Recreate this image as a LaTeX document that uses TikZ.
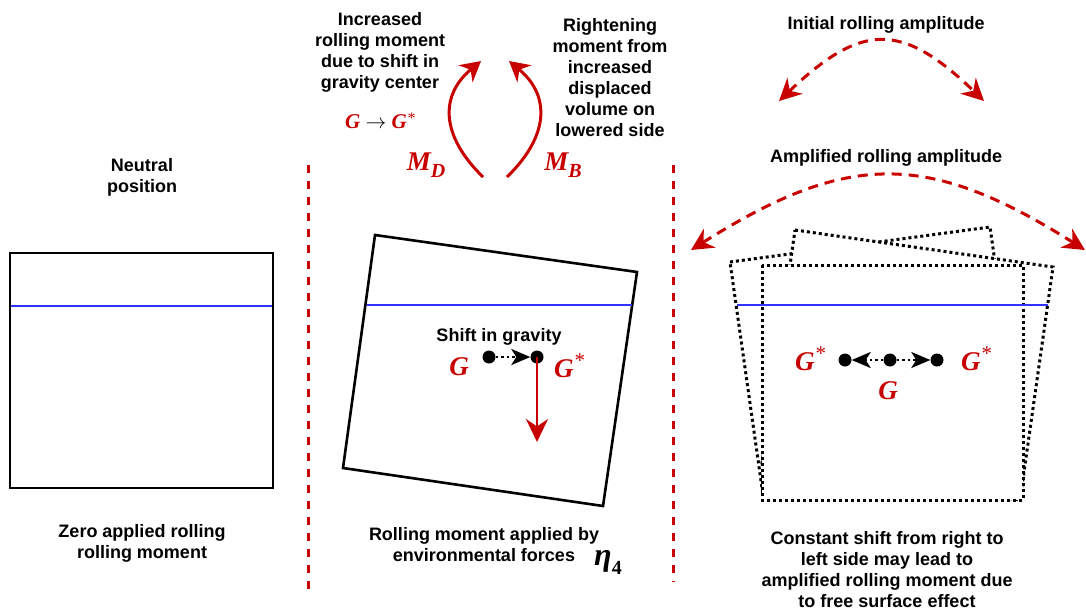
\documentclass[tikz,border=0pt]{standalone}
\usepackage{fontspec}
\setmainfont{Liberation Sans}
\newfontfamily\lettres{Liberation Serif}
\usetikzlibrary{arrows.meta}
\definecolor{rouge}{RGB}{200,0,0}
\definecolor{bleu}{RGB}{50,50,255}
\newcommand{\etoile}{\raisebox{0.36em}{\fontsize{21}{21}\selectfont\mdseries *}}
\newcommand{\indice}[1]{\raisebox{-0.28em}{\fontsize{20}{20}\selectfont #1}}
\tikzset{
  legende/.style={font=\fontsize{18}{21}\selectfont\bfseries, align=center, inner sep=0pt},
  lettre/.style={font=\lettres\fontsize{27}{30}\selectfont\bfseries\itshape, text=rouge, inner sep=0pt},
  point/.style={circle, fill=black, minimum size=13pt, inner sep=0pt},
  caisson/.style={line width=2.6pt, line join=miter},
  pointille/.style={line width=3pt, dash pattern=on 3pt off 3pt, fill=white},
  eau/.style={bleu, line width=2.6pt},
  separation/.style={rouge, line width=3pt, dash pattern=on 8pt off 8pt},
  deplacement/.style={line width=2.5pt, dash pattern=on 2.5pt off 3pt, -{Stealth[length=19pt,width=16pt,inset=5pt]}},
  moment/.style={rouge, line width=3pt, -{Stealth[length=20pt,width=22pt]}},
  amplitude/.style={rouge, line width=3pt, dash pattern=on 10pt off 7pt, {Stealth[length=22pt,width=22pt]}-{Stealth[length=22pt,width=22pt]}},
}
\begin{document}
\begin{tikzpicture}[x=1pt,y=-1pt]
    \useasboundingbox (0,0) rectangle (1086,611);
    % separations
    \coordinate (s1h) at (308,165);
    \coordinate (s1b) at (308,590);
    \coordinate (s2h) at (673,165);
    \coordinate (s2b) at (673,582);
    \draw[separation] (s1h) -- (s1b);
    \draw[separation] (s2h) -- (s2b);
    % position neutre
    \node[legende] (neutre) at (142,177) {Neutral\\position};
    \draw[caisson] (10,253) rectangle (273,488);
    \draw[eau] (11,306) -- (272,306);
    \node[legende] (zero) at (142,543) {Zero applied rolling\\rolling moment};
    % moments
    \node[legende] (augm) at (380,52) {Increased\\rolling moment\\due to shift in\\gravity center};
    \node[lettre, font=\lettres\fontsize{21}{24}\selectfont\bfseries\itshape] (gversg) at (380,121) {G {\color{black}\upshape\mdseries$\rightarrow$} G{\fontsize{16}{16}\selectfont\raisebox{0.35em}{\mdseries *}}};
    \node[legende] (redr) at (610,78) {Rightening\\moment from\\increased\\displaced\\volume on\\lowered side};
    \coordinate (md0) at (483,177);
    \coordinate (md1) at (481,61);
    \coordinate (mb0) at (507,177);
    \coordinate (mb1) at (509,61);
    \draw[moment] (md0) .. controls (440,135) and (440,95) .. (md1);
    \draw[moment] (mb0) .. controls (550,135) and (550,95) .. (mb1);
    \node[lettre] (md) at (426,165) {M\indice{D}};
    \node[lettre] (mb) at (563,165) {M\indice{B}};
    % caisson incline
    \draw[caisson] (375,235) -- (637,272) -- (603,506) -- (343,468) -- cycle;
    \draw[eau] (367,305) -- (632,305);
    \node[legende] (decal) at (499,337) {Shift in gravity};
    \node[point] (g) at (489,357) {};
    \node[point] (gs) at (537,357) {};
    \draw[deplacement] (g) -- (gs);
    \coordinate (poids) at (537,442);
    \draw[moment, line width=2.5pt, -{Stealth[length=23pt,width=22pt]}] (gs.center) -- (poids);
    \node[lettre] (gl) at (459,367) {G};
    \node[lettre] (gsl) at (569,366) {G\etoile};
    \node[legende] (appl) at (484,545) {Rolling moment applied by\\environmental forces};
    \node[lettre, text=black, font=\lettres\fontsize{32}{34}\selectfont\bfseries\itshape] (eta) at (608,562) {η\indice{\upshape 4}};
    % amplitudes
    \node[legende] (init) at (886,25) {Initial rolling amplitude};
    \coordinate (i0) at (779,101);
    \coordinate (i1) at (984,101);
    \draw[amplitude] (i0) .. controls (862,22) and (902,22) .. (i1);
    \node[legende] (ampl) at (886,158) {Amplified rolling amplitude};
    \coordinate (a0) at (691,250);
    \coordinate (a1) at (1085,250);
    \draw[amplitude] (a0) .. controls (848,151) and (928,151) .. (a1);
    % caissons en roulis
    \draw[pointille] (730,262) -- (990,227) -- (1023,460) -- (763,495) -- cycle;
    \draw[pointille] (795,230) -- (1053,267) -- (1020,500) -- (762,463) -- cycle;
    \draw[pointille] (762,265) rectangle (1023,500);
    \draw[eau] (737,305) -- (1048,305);
    \node[point] (gc) at (890,360) {};
    \node[point] (gg) at (845,360) {};
    \node[point] (gd) at (937,360) {};
    \draw[deplacement] (gc) -- (gg);
    \draw[deplacement] (gc) -- (gd);
    \node[lettre] (ggl) at (810,359) {G\etoile};
    \node[lettre] (gdl) at (976,359) {G\etoile};
    \node[lettre] (gcl) at (888,391) {G};
    \node[legende] (const) at (887,570) {Constant shift from right to\\left side may lead to\\amplified rolling moment due\\to free surface effect};
\end{tikzpicture}
\end{document}
